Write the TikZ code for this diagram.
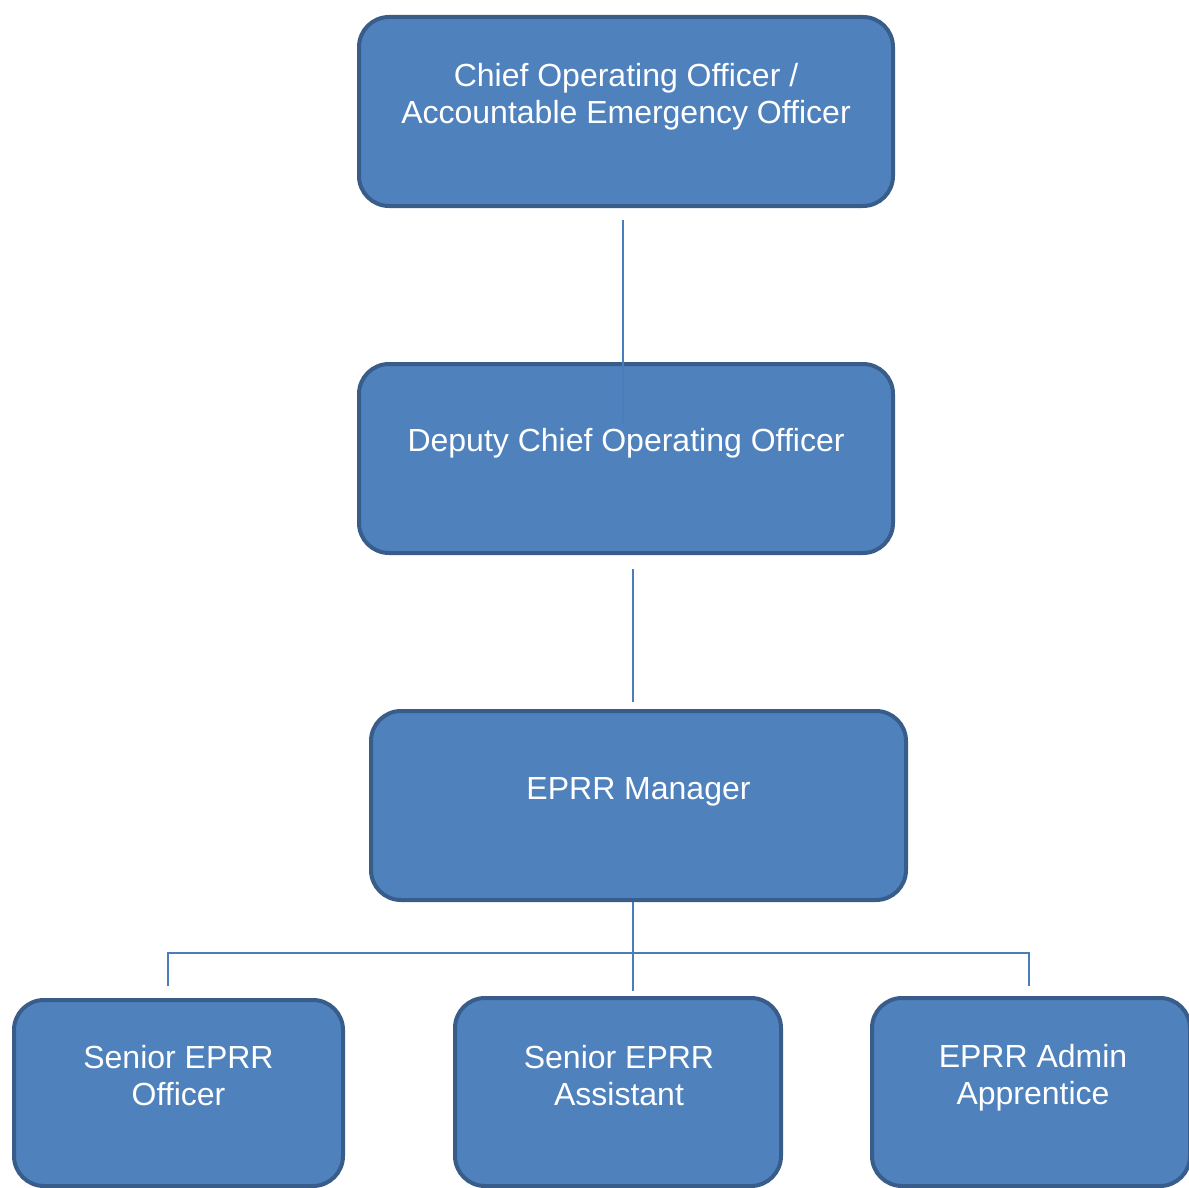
\documentclass[tikz,border=0pt]{standalone}
\usepackage{fontspec}
\setmainfont{Liberation Sans}
\usetikzlibrary{calc, positioning}
\definecolor{boxfill}{HTML}{4F81BD}
\definecolor{boxline}{HTML}{385D8A}
\definecolor{linkblue}{HTML}{4A7EBB}

\begin{document}
\begin{tikzpicture}[x=0.5pt, y=-0.5pt,
  role/.style={draw=boxline, fill=boxfill, line width=2pt, rounded corners=15pt, inner sep=0pt},
  roletext/.style={text=white, font=\fontsize{16}{18.5}\selectfont, align=center},
  link/.style={draw=linkblue, line width=0.7pt}]
\useasboundingbox (0,0) rectangle (1189,1188);
% boxes
\node[role, minimum width=267pt, minimum height=94.5pt] (coo) at (626,111.5) {};
\node[role, minimum width=267pt, minimum height=94.5pt] (dcoo) at (626,458.5) {};
\node[role, minimum width=267.5pt, minimum height=94.5pt] (mgr) at (638.5,805.5) {};
\node[role, minimum width=164.5pt, minimum height=93pt] (seo) at (178.5,1093) {};
\node[role, minimum width=163pt, minimum height=94pt] (sea) at (618,1092) {};
\node[role, minimum width=159pt, minimum height=94pt] (app) at (1031,1092) {};

% reporting lines
\draw[link] ($(coo.south)+(-3,12)$) -- ($(dcoo.north)+(-3,61)$);
\draw[link] ($(dcoo.south)+(7,14)$) -- ($(mgr.north)+(-5.5,-7)$);
\draw[link] ($(mgr.south)+(-5.5,0)$) -- ($(sea.north)+(15,-5)$);
\coordinate (bus) at ($(mgr.south)+(-5.5,51)$);
\draw[link] ($(seo.north)+(-10.5,-12)$) |- (bus) -| ($(app.north)+(-2,-10)$);

% labels
\node[roletext] (cootxt) at ($(coo.center)+(0,-14.5)$) {Chief Operating Officer /\\Accountable Emergency Officer};
\node[roletext] (dcootxt) at ($(dcoo.center)+(0,-15.5)$) {Deputy Chief Operating Officer};
\node[roletext] (mgrtxt) at ($(mgr.center)+(0,-13.5)$) {EPRR Manager};
\node[roletext] (seotxt) at ($(seo.center)+(0,-17.5)$) {Senior EPRR\\Officer};
\node[roletext] (seatxt) at ($(sea.center)+(1,-16.5)$) {Senior EPRR\\Assistant};
\node[roletext] (apptxt) at ($(app.center)+(2,-14.5)$) {EPRR Admin\\Apprentice};
\end{tikzpicture}
\end{document}
